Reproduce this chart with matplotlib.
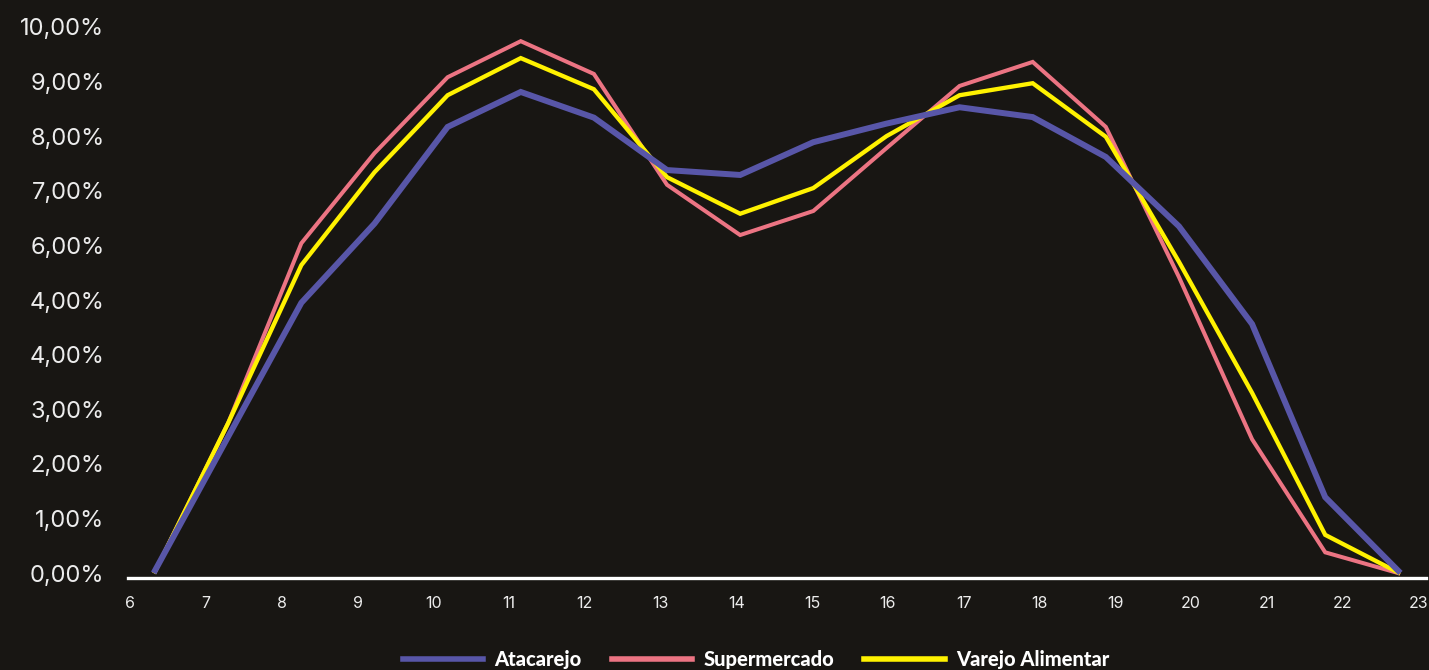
import matplotlib.pyplot as plt
import numpy as np

plt.rcParams['font.family'] = ['Inter', 'DejaVu Sans']

horas = [6, 7, 8, 9, 10, 11, 12, 13, 14, 15, 16, 17, 18, 19, 20, 21, 22, 23]
atacarejo = [0.05, 2.50, 4.95, 6.40, 8.17, 8.81, 8.34, 7.38, 7.29, 7.89, 8.23, 8.53,
             8.35, 7.62, 6.35, 4.56, 1.39, 0.04]
supermercado = [0.03, 2.75, 6.04, 7.69, 9.08, 9.74, 9.14, 7.11, 6.19, 6.63, 7.78, 8.92,
                9.36, 8.17, 5.42, 2.45, 0.38, 0.00]
varejo = [0.03, 2.75, 5.64, 7.34, 8.75, 9.43, 8.86, 7.25, 6.58, 7.05, 8.00, 8.75,
          8.97, 7.99, 5.70, 3.30, 0.70, 0.01]
y_ticks = [0, 1, 2, 3, 4, 5, 6, 7, 8, 9, 10]
y_labels = ['0,00%', '1,00%', '2,00%', '3,00%', '4,00%', '4,00%', '6,00%',
            '7,00%', '8,00%', '9,00%', '10,00%']

bg = '#181613'
txt = '#ececec'

fig = plt.figure(figsize=(14.29, 6.70), dpi=100, facecolor=bg)
ax = fig.add_axes([0.0896, 0.1373, 0.9084, 0.8469], facecolor=bg)

x = np.arange(len(horas))
ax.plot(x, atacarejo, color='#5856a8', lw=4.3, label='Atacarejo', zorder=4,
        solid_joinstyle='miter')
ax.plot(x, supermercado, color='#ec7483', lw=2.9, label='Supermercado', zorder=2,
        solid_joinstyle='miter')
ax.plot(x, varejo, color='#fff200', lw=3.1, label='Varejo Alimentar', zorder=3,
        solid_joinstyle='miter')

ax.set_xlim(-0.37, 17.38)
ax.set_ylim(-0.09, 10.3)

ax.set_xticks(np.linspace(-0.34, 17.27, len(horas)))
ax.set_xticklabels([str(h) for h in horas])
ax.set_yticks(y_ticks)
ax.set_yticklabels(y_labels)
ax.tick_params(axis='x', length=0, pad=13, labelsize=11.5, labelcolor=txt)
ax.tick_params(axis='y', length=0, pad=17, labelsize=17, labelcolor=txt)

for s in ['top', 'right', 'left']:
    ax.spines[s].set_visible(False)
ax.spines['bottom'].set_color('white')
ax.spines['bottom'].set_linewidth(2.4)

leg = fig.legend(loc='center', bbox_to_anchor=(0.529, 0.016), ncol=3, frameon=False,
                 handlelength=4.0, handletextpad=0.55, columnspacing=1.5,
                 prop={'family': ['Lato', 'DejaVu Sans'], 'weight': 'black', 'size': 14.5})
for t in leg.get_texts():
    t.set_color('white')
for h in leg.get_lines():
    h.set_linewidth(4)

plt.savefig('out.png', dpi=100, facecolor=bg)
